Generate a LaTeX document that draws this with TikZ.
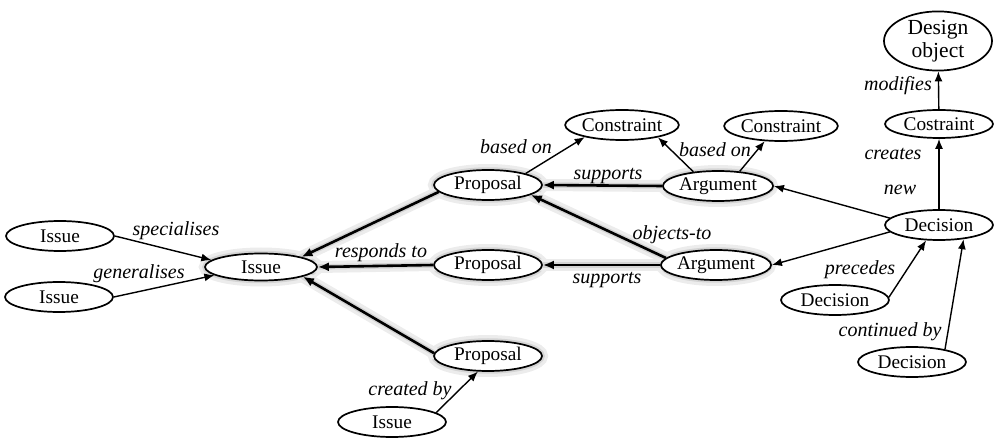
\documentclass[tikz,border=0pt]{standalone}
\usepackage{fontspec}
\setmainfont{Liberation Serif}
\usetikzlibrary{shapes.geometric,arrows.meta,backgrounds}

\begin{document}
\begin{tikzpicture}[x=1pt,y=-1pt,
  ent/.style={ellipse,draw,line width=1.7pt,fill=white,inner sep=0pt,
    minimum width=108pt,minimum height=30pt,
    font=\fontsize{19.3}{22}\selectfont},
  rel/.style={font=\fontsize{20}{22}\selectfont\itshape,inner sep=1pt},
  link/.style={line width=1.4pt,-{Latex[length=10pt,width=8pt]}},
  strong/.style={line width=2.6pt,-{Latex[length=11pt,width=9pt]}},
  glow/.style={line width=12pt,draw=gray!15,line cap=round},
  glowcore/.style={line width=5.5pt,draw=gray!33,line cap=round}]

\useasboundingbox (0,0) rectangle (996,438);

% issues
\node[ent] (ilt) at (60,236) {Issue};
\node[ent] (ilb) at (59,297) {Issue};
\node[ent,minimum width=112pt,minimum height=27pt] (ic) at (261,267) {Issue};
\node[ent] (ib) at (392,422) {Issue};

% proposals
\node[ent] (pt) at (488,185) {Proposal};
\node[ent] (pm) at (488,265) {Proposal};
\node[ent] (pb) at (488,356) {Proposal};

% constraints
\node[ent] (c1) at (622,125) {Constraint};
\node[ent] (c2) at (781,126) {Constraint};

% arguments
\node[ent] (at) at (718,186) {Argument};
\node[ent] (ab) at (716,265) {Argument};

% decisions and what they change
\node[ent] (dec) at (939,225) {Decision};
\node[ent] (dp) at (835,300) {Decision};
\node[ent] (dc) at (912,362) {Decision};
\node[ent,minimum height=28pt] (cs) at (939,124) {Costraint};
\node[ent,minimum height=52pt,align=center,
  font=\fontsize{21.5}{23}\selectfont] (dobj) at (938,41) {Design\\object};

% soft highlight behind the main argumentation chain
\begin{pgfonlayer}{background}
  \foreach \n/\rx/\ry in {ic/56/13.5,pt/54/15,pm/54/15,pb/54/15,at/54/15,ab/54/15}{
    \draw[glow] (\n.center) ellipse [x radius=\rx, y radius=\ry];
    \draw[glowcore] (\n.center) ellipse [x radius=\rx, y radius=\ry];
  }
  \foreach \a/\b in {pt.188/ic.14,pm.west/ic.east,pb.177/ic.347,
                     at.west/pt.east,ab.172/pt.347,ab.west/pm.east}{
    \draw[glow] (\a) -- (\b);
    \draw[glowcore] (\a) -- (\b);
  }
\end{pgfonlayer}

% relations between issues
\draw[link] (ilt.east) -- (ic.172);
\draw[link] (ilb.east) -- (ic.190);
\draw[link] (ib.12) -- (pb.237);

% proposals respond to the issue
\draw[strong] (pt.188) -- (ic.14);
\draw[strong] (pm.west) -- (ic.east);
\draw[strong] (pb.177) -- (ic.347);

% arguments on proposals
\draw[strong] (at.west) -- (pt.east);
\draw[strong] (ab.172) -- (pt.347);
\draw[strong] (ab.west) -- (pm.east);

% constraints
\draw[link] (pt.17) -- (c1.198);
\draw[link] (at.150) -- (c1.341);
\draw[link] (at.34) -- (c2.223);

% decisions
\draw[link] (dec.172) -- (at.east);
\draw[link] (dec.188) -- (ab.east);
\draw[link] (dec) -- (cs);
\draw[link] (cs) -- (dobj);
\draw[link] (dp.3) -- (dec.230);
\draw[link] (dc.21) -- (dec.330);

% relation labels
\node[rel] (lspec) at (176,231) {specialises};
\node[rel] (lgen) at (139,274) {generalises};
\node[rel] (lresp) at (381,253) {responds to};
\node[rel] (lcreated) at (410,391) {created by};
\node[rel] (lbased1) at (516,147) {based on};
\node[rel] (lsupt) at (608,176) {supports};
\node[rel] (lbased2) at (715,150) {based on};
\node[rel] (lobj) at (672,235) {objects-to};
\node[rel] (lsupb) at (607,280) {supports};
\node[rel] (lcreates) at (893,154) {creates};
\node[rel] (lnew) at (900,190) {new};
\node[rel] (lmod) at (898,86) {modifies};
\node[rel] (lprec) at (860,270) {precedes};
\node[rel] (lcont) at (890,332) {continued by};
\end{tikzpicture}
\end{document}
